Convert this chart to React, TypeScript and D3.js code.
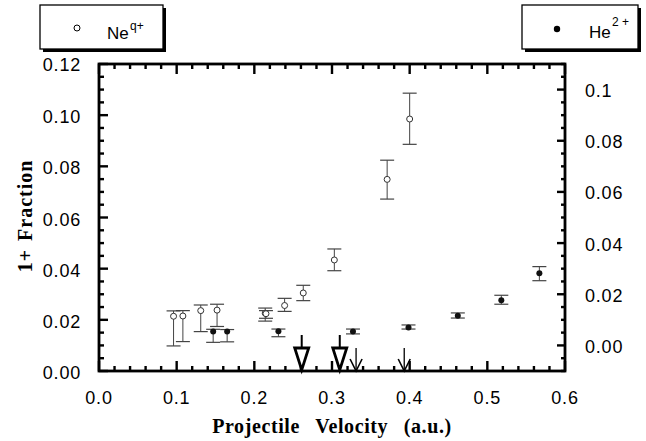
import React from 'react';
import * as d3 from 'd3';

const xTicks = [0, 0.1, 0.2, 0.3, 0.4, 0.5, 0.6];
const xTickLabels = ['0.0', '0.1', '0.2', '0.3', '0.4', '0.5', '0.6'];
const yLeftTicks = [0, 0.02, 0.04, 0.06, 0.08, 0.1, 0.12];
const yLeftLabels = ['0.00', '0.02', '0.04', '0.06', '0.08', '0.10', '0.12'];
const yRightTicks = [0, 0.02, 0.04, 0.06, 0.08, 0.1];
const yRightLabels = ['0.00', '0.02', '0.04', '0.06', '0.08', '0.1'];

// Ne^{q+} series (left axis)
const neVelocity = [0.096, 0.108, 0.131, 0.152, 0.214, 0.215, 0.239, 0.263, 0.303, 0.371, 0.4];
const neFraction = [0.0214, 0.0215, 0.0236, 0.0238, 0.0226, 0.0224, 0.0256, 0.0305, 0.0434, 0.0749, 0.0985];
const neErrHigh = [0.0235, 0.0236, 0.0258, 0.0261, 0.0246, 0.0236, 0.0284, 0.0335, 0.0477, 0.0824, 0.1086];
const neErrLow = [0.0098, 0.0115, 0.0154, 0.0174, 0.0195, 0.0206, 0.0233, 0.0275, 0.0392, 0.0672, 0.0886];

// He^{2+} series (right axis)
const heVelocity = [0.147, 0.165, 0.231, 0.327, 0.3985, 0.462, 0.518, 0.567];
const heFraction = [0.0054, 0.0054, 0.0055, 0.0054, 0.007, 0.0116, 0.0177, 0.0282];
const heErrHigh = [0.0063, 0.0062, 0.0064, 0.0064, 0.008, 0.0127, 0.0196, 0.0308];
const heErrLow = [0.0012, 0.0014, 0.0034, 0.0045, 0.0064, 0.0107, 0.0161, 0.0253];

// arrows marking velocities
const bigArrowVelocity = [0.261, 0.31];
const smallArrowVelocity = [0.331, 0.393];

const W = 646;
const H = 441;
const L = 99, R = 565, T = 64, B = 371;

export default function App() {
  const x = d3.scaleLinear().domain([0, 0.6]).range([L, R]);
  const yL = d3.scaleLinear().domain([0, 0.12]).range([B, T]);
  const yR = d3.scaleLinear().domain([-0.01, 0.11]).range([B, T]);

  const xMinor = d3.range(0, 0.6001, 0.02);
  const yLMinor = d3.range(0, 0.1201, 0.005);
  const yRMinor = d3.range(-0.01, 0.1101, 0.005);

  const major = 9, minor = 5;
  const tickSW = 2.4;
  const sans = "'Liberation Sans', Arial, sans-serif";
  const serif = "'Liberation Serif', 'Times New Roman', serif";
  const capW = 7;
  const errColor = '#444';
  const labelStyle = { letterSpacing: '0.8px' };

  return (
    <svg width={W} height={H} style={{ position: 'absolute', left: 0, top: 0, background: '#fff' }}>
      {/* legends */}
      <g>
        <rect x={43} y={8} width={123} height={44} fill="#000" />
        <rect x={40} y={5} width={123} height={44} fill="#fff" stroke="#000" strokeWidth={1.3} />
        <circle cx={77} cy={28} r={3} fill="none" stroke="#000" strokeWidth={1} />
        <text x={107} y={39} fontFamily={sans} fontSize={17}>Ne</text>
        <text x={130} y={30} fontFamily={sans} fontSize={12}>q+</text>

        <rect x={525} y={8} width={116} height={44} fill="#000" />
        <rect x={522} y={5} width={116} height={44} fill="#fff" stroke="#000" strokeWidth={1.3} />
        <circle cx={557} cy={29} r={3.2} fill="#000" />
        <text x={589} y={38} fontFamily={sans} fontSize={17}>He</text>
        <text x={612} y={26} fontFamily={sans} fontSize={12}>2 +</text>
      </g>

      {/* frame */}
      <rect x={L} y={T} width={R - L} height={B - T} fill="none" stroke="#000" strokeWidth={2.8} />

      {/* bottom & top ticks */}
      {xMinor.map((v, i) => {
        const len = i % 5 === 0 ? major + 1 : minor;
        return (
          <g key={'xt' + i}>
            <line x1={x(v)} x2={x(v)} y1={B} y2={B - len} stroke="#000" strokeWidth={tickSW} />
            <line x1={x(v)} x2={x(v)} y1={T} y2={T + len} stroke="#000" strokeWidth={tickSW} />
          </g>
        );
      })}
      {/* left ticks */}
      {yLMinor.map((v, i) => {
        const len = i % 4 === 0 ? major : minor;
        return <line key={'yl' + i} x1={L} x2={L + len} y1={yL(v)} y2={yL(v)} stroke="#000" strokeWidth={tickSW} />;
      })}
      {/* right ticks */}
      {yRMinor.map((v, i) => {
        const len = (i - 2) % 4 === 0 ? major - 1 : minor - 1;
        return <line key={'yr' + i} x1={R} x2={R - len} y1={yR(v)} y2={yR(v)} stroke="#000" strokeWidth={tickSW} />;
      })}

      {/* tick labels */}
      {xTicks.map((v, i) => (
        <text key={'xl' + i} x={x(v)} y={398} textAnchor="middle" dominantBaseline="central" fontFamily={sans} fontSize={18} style={labelStyle}>
          {xTickLabels[i]}
        </text>
      ))}
      {yLeftTicks.map((v, i) => (
        <text key={'yll' + i} x={81} y={yL(v) + (i === 6 ? 1 : 2)} textAnchor="end" dominantBaseline="central" fontFamily={sans} fontSize={18} style={labelStyle}>
          {yLeftLabels[i]}
        </text>
      ))}
      {yRightTicks.map((v, i) => (
        <text key={'yrl' + i} x={585} y={yR(v) + 1.5} textAnchor="start" dominantBaseline="central" fontFamily={sans} fontSize={18} style={labelStyle}>
          {yRightLabels[i]}
        </text>
      ))}

      {/* axis titles */}
      <text x={332} y={426} textAnchor="middle" dominantBaseline="central" fontFamily={serif} fontWeight="bold" fontSize={20} style={{ wordSpacing: '10px', letterSpacing: '0.6px' }}>
        Projectile Velocity (a.u.)
      </text>
      <text transform="translate(25,216) rotate(-90)" textAnchor="middle" dominantBaseline="central" fontFamily={serif} fontWeight="bold" fontSize={20} style={{ letterSpacing: '1px', wordSpacing: '2px' }}>
        1+ Fraction
      </text>

      {/* Ne error bars and markers */}
      {neVelocity.map((v, i) => {
        const cx = x(v);
        return (
          <g key={'ne' + i}>
            <line x1={cx} x2={cx} y1={yL(neErrLow[i])} y2={yL(neErrHigh[i])} stroke={errColor} strokeWidth={1} />
            <line x1={cx - capW} x2={cx + capW} y1={yL(neErrHigh[i])} y2={yL(neErrHigh[i])} stroke={errColor} strokeWidth={1.2} />
            <line x1={cx - capW} x2={cx + capW} y1={yL(neErrLow[i])} y2={yL(neErrLow[i])} stroke={errColor} strokeWidth={1.2} />
            <circle cx={cx} cy={yL(neFraction[i])} r={3} fill="#fff" stroke="#333" strokeWidth={1} />
          </g>
        );
      })}

      {/* He error bars and markers */}
      {heVelocity.map((v, i) => {
        const cx = x(v);
        return (
          <g key={'he' + i}>
            <line x1={cx} x2={cx} y1={yR(heErrLow[i])} y2={yR(heErrHigh[i])} stroke={errColor} strokeWidth={1} />
            <line x1={cx - capW} x2={cx + capW} y1={yR(heErrHigh[i])} y2={yR(heErrHigh[i])} stroke={errColor} strokeWidth={1.2} />
            <line x1={cx - capW} x2={cx + capW} y1={yR(heErrLow[i])} y2={yR(heErrLow[i])} stroke={errColor} strokeWidth={1.2} />
            <circle cx={cx} cy={yR(heFraction[i])} r={3} fill="#111" />
          </g>
        );
      })}

      {/* arrows */}
      {bigArrowVelocity.map((v, i) => {
        const cx = x(v);
        const tip = yL(0) - 1;
        return (
          <g key={'ba' + i}>
            <line x1={cx} x2={cx} y1={tip - 35} y2={tip - 22} stroke="#000" strokeWidth={2} />
            <path d={`M${cx - 7},${tip - 22} L${cx + 7},${tip - 22} L${cx},${tip} Z`} fill="#fff" stroke="#000" strokeWidth={2.8} strokeLinejoin="miter" />
          </g>
        );
      })}
      {smallArrowVelocity.map((v, i) => {
        const cx = x(v);
        const tip = yL(0);
        return (
          <g key={'sa' + i}>
            <line x1={cx} x2={cx} y1={tip - 23} y2={tip} stroke="#000" strokeWidth={1.3} />
            <path d={`M${cx - 6},${tip - 12} L${cx},${tip} L${cx + 6},${tip - 12}`} fill="none" stroke="#000" strokeWidth={1.6} />
          </g>
        );
      })}
    </svg>
  );
}
